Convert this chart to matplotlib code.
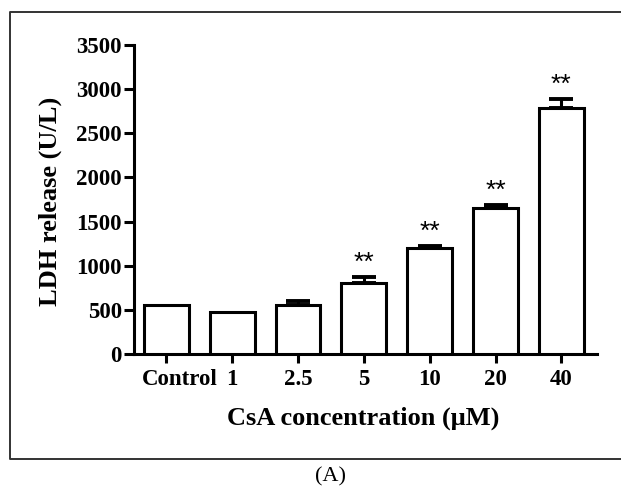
import numpy as np
import matplotlib
matplotlib.use("Agg")
import matplotlib.pyplot as plt
import matplotlib.transforms as mtransforms

# data
labels = ["Control", "1", "2.5", "5", "10", "20", "40"]
ldh = [560, 480, 555, 805, 1195, 1650, 2785]
err = [0, 0, 40, 68, 32, 37, 106]
signif = ["", "", "", "**", "**", "**", "**"]
yticks = [0, 500, 1000, 1500, 2000, 2500, 3000, 3500]

fig = plt.figure(figsize=(6.21, 4.87), dpi=100)
ax = fig.add_axes([134 / 621, 1 - 354 / 487, (597 - 134) / 621, (354 - 45) / 487])

x = np.arange(len(labels))
ax.bar(x, ldh, width=0.68, color="white", edgecolor="black", linewidth=2.2, zorder=3)

# only bars with a visible error get a cap
has_err = np.array(err) > 0
ax.errorbar(x[has_err], np.array(ldh)[has_err],
            yerr=[np.zeros(has_err.sum()), np.array(err)[has_err]], fmt="none", ecolor="black",
            elinewidth=2.2, capsize=8.5, capthick=2.8, zorder=2)

for xi, yi, ei, s in zip(x, ldh, err, signif):
    if s:
        ax.annotate(s, (xi, yi + ei), xytext=(0, 5), textcoords="offset points",
                    ha="center", va="baseline", fontsize=19, family="Liberation Sans")

ax.set_xlim(-0.49, 6.54)
ax.set_ylim(0, 3500)
ax.set_yticks(yticks)
ax.set_xticks(x)
ax.set_xticklabels(labels)

for sp in ["top", "right"]:
    ax.spines[sp].set_visible(False)
for sp in ["left", "bottom"]:
    ax.spines[sp].set_linewidth(2.2)

ax.tick_params(axis="y", length=7.2, width=2.2, pad=1.5)
ax.tick_params(axis="x", length=6.5, width=2.2, pad=4)
for t in ax.get_xticklabels() + ax.get_yticklabels():
    t.set_family("Liberation Serif")
    t.set_fontweight("bold")
    t.set_fontsize(16.5)

# "Control" sits right of its tick in the original
lab0 = ax.get_xticklabels()[0]
lab0.set_transform(lab0.get_transform() + mtransforms.ScaledTranslation(14 / 100, 0, fig.dpi_scale_trans))

fig.text(50 / 621, 1 - 201 / 487, "LDH release (U/L)", rotation=90, ha="center", va="center",
         family="Liberation Serif", fontweight="bold", fontsize=19)
fig.text(363 / 621, 1 - 418 / 487, "CsA concentration (\u03bcM)", ha="center", va="center",
         family="Liberation Serif", fontweight="bold", fontsize=19)
fig.text(331 / 621, 1 - 477 / 487, "(A)", ha="center", va="center",
         family="Liberation Serif", fontsize=16)

# outer frame (right edge falls off the picture)
fx0, fy0, fy1 = 9.5 / 621, 1 - 459 / 487, 1 - 11.5 / 487
fig.add_artist(plt.Line2D([1.0, fx0, fx0, 1.0], [fy1, fy1, fy0, fy0],
                          transform=fig.transFigure, color="#333333", linewidth=1.4))

fig.savefig("out.png", dpi=100)
